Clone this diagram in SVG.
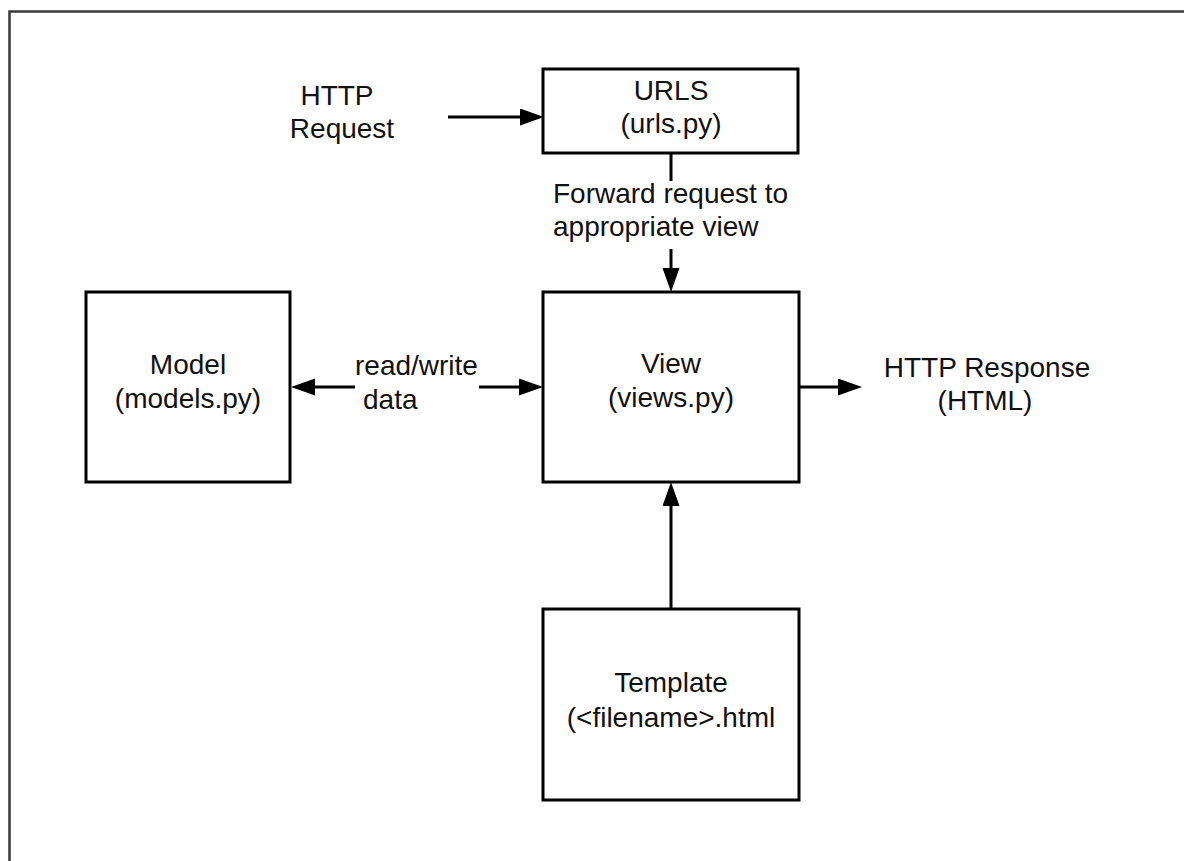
<svg xmlns="http://www.w3.org/2000/svg" width="1184" height="861" viewBox="0 0 1184 861">
  <style>
    .box { fill: #ffffff; stroke: #000000; stroke-width: 3; }
    .edge { fill: none; stroke: #000000; stroke-width: 3; }
    .lbl { font-family: "Liberation Sans", Arial, Helvetica, sans-serif; font-size: 28px; fill: #111111; }
    .mid { text-anchor: middle; }
    .frame { fill: none; stroke: #3a3a3a; stroke-width: 2.5; }
  </style>
  <defs>
    <marker id="arrow" markerUnits="userSpaceOnUse" markerWidth="25" markerHeight="18" refX="0" refY="8.5" orient="auto">
      <path d="M0,0 L24,8.5 L0,17 Z" fill="#000000"/>
    </marker>
  </defs>

  <rect x="0" y="0" width="1184" height="861" fill="#ffffff"/>
  <!-- outer frame (open on the right and bottom) -->
  <path class="frame" d="M9.5,861 V11.5 H1184"/>

  <!-- connectors -->
  <g id="connectors">
    <!-- HTTP request into URL dispatcher -->
    <line class="edge" x1="448" y1="117" x2="520" y2="117" marker-end="url(#arrow)"/>
    <!-- URLS to View, broken around its label -->
    <line class="edge" x1="671" y1="153" x2="671" y2="181"/>
    <line class="edge" x1="671" y1="249" x2="671" y2="268" marker-end="url(#arrow)"/>
    <!-- View reads/writes Model -->
    <line class="edge" x1="355" y1="387" x2="315" y2="387" marker-end="url(#arrow)"/>
    <line class="edge" x1="479" y1="387" x2="519" y2="387" marker-end="url(#arrow)"/>
    <!-- View to response -->
    <line class="edge" x1="799" y1="387" x2="838" y2="387" marker-end="url(#arrow)"/>
    <!-- Template feeds View -->
    <line class="edge" x1="671" y1="609" x2="671" y2="506" marker-end="url(#arrow)"/>
  </g>

  <g id="http-request">
    <text class="lbl mid" x="337" y="105">HTTP</text>
    <text class="lbl mid" x="342" y="138">Request</text>
  </g>

  <g id="urls">
    <rect class="box" x="543" y="69" width="255" height="84"/>
    <text class="lbl mid" x="671" y="100">URLS</text>
    <text class="lbl mid" x="671" y="133">(urls.py)</text>
  </g>

  <g id="forward-label">
    <text class="lbl" x="553" y="203">Forward request to</text>
    <text class="lbl" x="553" y="236">appropriate view</text>
  </g>

  <g id="model">
    <rect class="box" x="86" y="292" width="204" height="190"/>
    <text class="lbl mid" x="188" y="374">Model</text>
    <text class="lbl mid" x="188" y="408">(models.py)</text>
  </g>

  <g id="read-write-label">
    <text class="lbl" x="355" y="375">read/write</text>
    <text class="lbl" x="363" y="409">data</text>
  </g>

  <g id="view">
    <rect class="box" x="543" y="292" width="256" height="190"/>
    <text class="lbl mid" x="671" y="373">View</text>
    <text class="lbl mid" x="671" y="407">(views.py)</text>
  </g>

  <g id="http-response">
    <text class="lbl mid" x="987" y="377">HTTP Response</text>
    <text class="lbl mid" x="985" y="410">(HTML)</text>
  </g>

  <g id="template">
    <rect class="box" x="543" y="609" width="256" height="191"/>
    <text class="lbl mid" x="671" y="692">Template</text>
    <text class="lbl mid" x="671" y="727">(&lt;filename&gt;.html</text>
  </g>
</svg>
